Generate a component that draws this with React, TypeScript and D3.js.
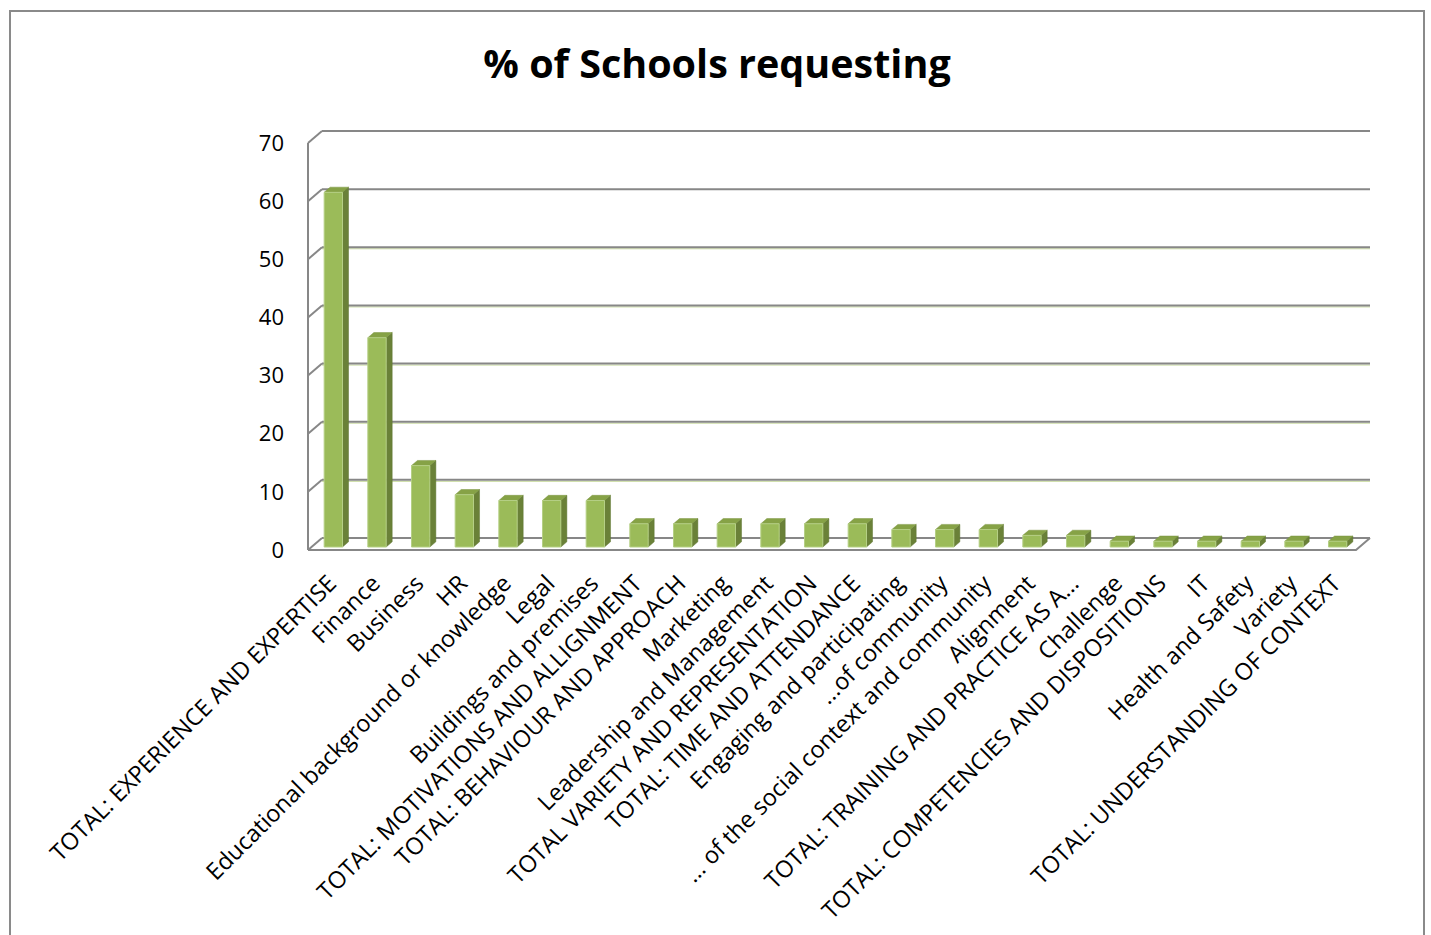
import React from "react";
import * as d3 from "d3";

const categories: string[] = [
  "TOTAL: EXPERIENCE AND EXPERTISE",
  "Finance",
  "Business",
  "HR",
  "Educational background or knowledge",
  "Legal",
  "Buildings and premises",
  "TOTAL: MOTIVATIONS AND ALLIGNMENT",
  "TOTAL: BEHAVIOUR AND APPROACH",
  "Marketing",
  "Leadership and Management",
  "TOTAL VARIETY AND REPRESENTATION",
  "TOTAL: TIME AND ATTENDANCE",
  "Engaging and participating",
  "...of community",
  "... of the social context and community",
  "Alignment",
  "TOTAL: TRAINING AND PRACTICE AS A…",
  "Challenge",
  "TOTAL: COMPETENCIES AND DISPOSITIONS",
  "IT",
  "Health and Safety",
  "Variety",
  "TOTAL: UNDERSTANDING OF CONTEXT",
];

const values: number[] = [61, 36, 14, 9, 8, 8, 8, 4, 4, 4, 4, 4, 4, 3, 3, 3, 2, 2, 1, 1, 1, 1, 1, 1];

const yTicks: number[] = [0, 10, 20, 30, 40, 50, 60, 70];

const title = "% of Schools requesting";

const W = 1431;
const H = 935;
const DX = 14;
const DY = -12;
const FONT = "'Open Sans', Lato, sans-serif";

export default function App() {
  const x = d3
    .scaleBand<string>()
    .domain(categories)
    .range([308, 1356])
    .paddingInner(0.58)
    .paddingOuter(0.29);
  const y = d3.scaleLinear().domain([0, 70]).range([550, 143]);

  const P = (px: number, py: number, d: number) => [px + d * DX, py + d * DY];
  const pts = (arr: number[][]) => arr.map((p) => p.join(",")).join(" ");

  const x0 = x.range()[0];
  const x1 = x.range()[1];
  const gridColor = "#878787";

  const dFront = 0.25;
  const dBack = 0.68;

  return (
    <svg width={W} height={H} style={{ display: "block", position: "absolute", left: 0, top: 0 }}>
      <rect x={0} y={0} width={W} height={H} fill="#ffffff" />
      <rect x={10} y={11} width={1414} height={940} fill="#ffffff" stroke="#8a8a8a" strokeWidth={2} />
      <text
        x={717}
        y={78}
        textAnchor="middle"
        fontFamily={FONT}
        fontWeight="bold"
        fontSize={39.5}
        fill="#000"
      >
        {title}
      </text>

      {/* back wall gridlines and left wall diagonals */}
      {yTicks.map((t) => {
        const [bx0, by0] = P(x0, y(t), 1);
        const [bx1, by1] = P(x1, y(t), 1);
        return (
          <g key={"g" + t}>
            {t > 0 && t <= 50 && (
              <line x1={bx0} y1={by0 + 1.5} x2={bx1} y2={by1 + 1.5} stroke="#c9dba0" strokeWidth={1} />
            )}
            <line x1={bx0} y1={by0} x2={bx1} y2={by1} stroke={gridColor} strokeWidth={2} />
            <line x1={x0} y1={y(t)} x2={bx0} y2={by0} stroke={gridColor} strokeWidth={2} />
          </g>
        );
      })}
      {/* left wall front edge */}
      <line x1={x0} y1={y(0)} x2={x0} y2={y(70)} stroke={gridColor} strokeWidth={2} />
      {/* floor */}
      <polyline
        points={pts([P(x0, y(0), 0), P(x1, y(0), 0), P(x1, y(0), 1)])}
        fill="none"
        stroke={gridColor}
        strokeWidth={2}
      />

      {/* bars */}
      {categories.map((c, i) => {
        const v = values[i];
        const bx = x(c)!;
        const bw = x.bandwidth();
        const fl = P(bx, y(0), dFront);
        const fr = P(bx + bw, y(0), dFront);
        const tl = P(bx, y(v), dFront);
        const tr = P(bx + bw, y(v), dFront);
        const br = P(bx + bw, y(0), dBack);
        const trb = P(bx + bw, y(v), dBack);
        const tlb = P(bx, y(v), dBack);
        return (
          <g key={c}>
            <polygon points={pts([fr, br, trb, tr])} fill="#6a8138" stroke="#5f7532" strokeWidth={0.5} />
            <polygon points={pts([tl, tr, trb, tlb])} fill="#86a246" stroke="#7a9440" strokeWidth={0.5} />
            <polygon points={pts([fl, fr, tr, tl])} fill="#9bbb59" stroke="#b5cf85" strokeWidth={1} />
          </g>
        );
      })}

      {/* y labels */}
      {yTicks.map((t) => (
        <text
          key={"y" + t}
          x={284}
          y={y(t)}
          dy="0.35em"
          textAnchor="end"
          fontFamily={FONT}
          fontSize={22}
          fill="#000"
        >
          {t}
        </text>
      ))}

      {/* x labels */}
      {categories.map((c) => {
        const cx = x(c)! + x.bandwidth() / 2;
        const ax = cx + 8;
        const ay = 585;
        return (
          <text
            key={"x" + c}
            x={ax}
            y={ay}
            textAnchor="end"
            transform={`rotate(-45 ${ax} ${ay})`}
            fontFamily={FONT}
            fontSize={23.5}
            fill="#000"
          >
            {c}
          </text>
        );
      })}
    </svg>
  );
}
